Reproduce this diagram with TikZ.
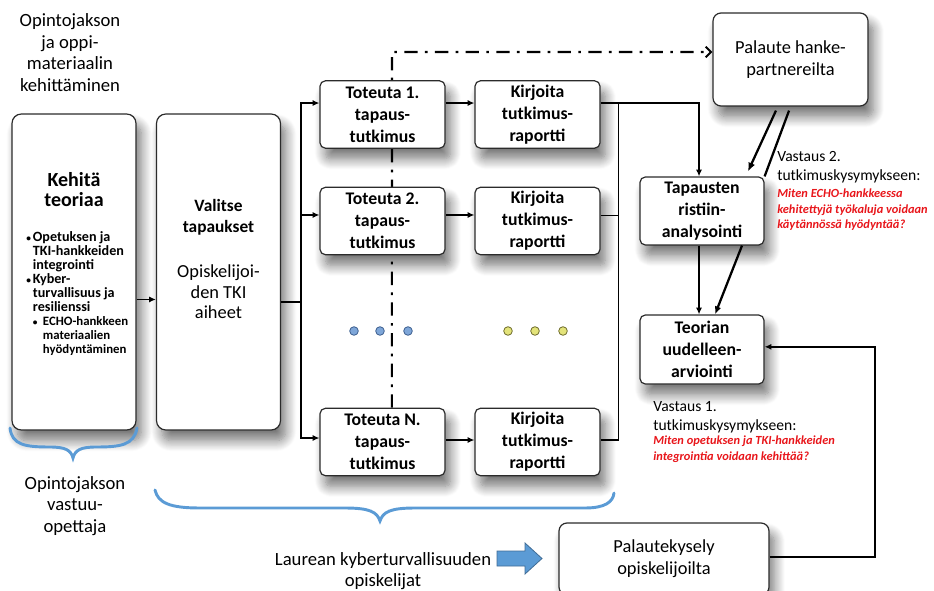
\documentclass[tikz,border=0pt]{standalone}
\usepackage{fontspec}
\setmainfont{Carlito}
\usetikzlibrary{arrows.meta,shadows.blur,backgrounds,calc}

\definecolor{edge}{HTML}{2B2B2B}
\definecolor{bracecol}{HTML}{5B9BD5}
\definecolor{qred}{HTML}{E8161B}
\definecolor{dotblue}{HTML}{7EA6D8}
\definecolor{dotblueline}{HTML}{3D5F8F}
\definecolor{dotyel}{HTML}{E3E37A}
\definecolor{dotyelline}{HTML}{6E6C2C}

\tikzset{
  card/.style={draw=edge, line width=0.9pt, fill=white, rounded corners=4pt,
    align=center, inner sep=2pt,
    blur shadow={shadow xshift=4pt, shadow yshift=-8pt, shadow blur radius=8pt,
      shadow blur steps=12, shadow opacity=55}},
  tall/.style={card, rounded corners=7pt, minimum width=93pt, minimum height=237pt},
  stepbox/.style={card, minimum width=93.75pt, minimum height=50.5pt,
    font=\fontsize{13.3}{16.5}\selectfont\bfseries},
  softbox/.style={card, rounded corners=6pt, font=\fontsize{13.8}{16.5}\selectfont},
  link/.style={draw=black, line width=1pt, -{Latex[length=5pt,width=4.5pt]}},
  plain/.style={draw=black, line width=1pt},
  heavy/.style={draw=black, line width=1.7pt},
  dashdot/.style={draw=black, line width=1.6pt,
    dash pattern=on 10pt off 5.5pt on 2pt off 5.5pt},
  brace/.style={draw=bracecol, line width=2.2pt, line cap=round},
  note/.style={align=center, font=\fontsize{14}{16.2}\selectfont},
  answer/.style={anchor=west, align=left, inner sep=0pt,
    font=\fontsize{11.7}{14.5}\selectfont},
  question/.style={anchor=west, align=left, inner sep=0pt, text=qred,
    font=\fontsize{9.3}{11.6}\selectfont\bfseries\itshape},
  bluedot/.style={fill=dotblue, draw=dotblueline, line width=0.6pt},
  yeldot/.style={fill=dotyel, draw=dotyelline, line width=0.6pt},
}
\newcommand{\dotmark}{\makebox[4pt][l]{\fontsize{7}{7}\selectfont\textbullet}}
\newcommand{\wide}[1]{\multicolumn{2}{@{}l@{}}{#1}}

\begin{document}
\begin{tikzpicture}[x=0.75pt, y=-0.75pt]
\useasboundingbox (0,0) rectangle (934,591);

% ---- left column: theory and case selection
\node[tall] (kt) at (74,272) {};
\node[font=\fontsize{15}{15}\selectfont\bfseries, align=center] (ktt) at (74,190) {Kehitä\\teoriaa};
\node[anchor=north west, inner sep=0pt, font=\fontsize{10.6}{10.4}\selectfont\bfseries] (ktb) at (26,231)
  {\begin{tabular}{@{}l@{\hspace{1pt}}l@{\hspace{3.5pt}}l@{}}
   \dotmark & \wide{Opetuksen ja}\\
   & \wide{TKI-hankkeiden}\\
   & \wide{integrointi}\\
   \dotmark & \wide{Kyber-}\\
   & \wide{turvallisuus ja}\\
   & \wide{resilienssi}\\
   & \dotmark & {\fontsize{9.6}{10.4}\selectfont ECHO-hankkeen}\\
   & & {\fontsize{9.6}{10.4}\selectfont materiaalien}\\
   & & {\fontsize{9.6}{10.4}\selectfont hyödyntäminen}
  \end{tabular}};

\node[tall] (vt) at (218.5,272) {};
\node[font=\fontsize{13}{15.5}\selectfont\bfseries, align=center] (vtt) at (218.5,217) {Valitse\\tapaukset};
\node[font=\fontsize{13.8}{15.5}\selectfont, align=center] (vts) at (218.5,292) {Opiskelijoi-\\den TKI\\aiheet};

% ---- case studies and reports
\node[stepbox] (t1) at (382.5,114.5) {Toteuta 1.\\tapaus-\\tutkimus};
\node[stepbox] (t2) at (382.5,221) {Toteuta 2.\\tapaus-\\tutkimus};
\node[stepbox] (tn) at (382.5,442) {Toteuta N.\\tapaus-\\tutkimus};
\node[stepbox] (k1) at (537.5,114.5) {Kirjoita\\tutkimus-\\raportti};
\node[stepbox] (k2) at (537.5,221) {Kirjoita\\tutkimus-\\raportti};
\node[stepbox] (kn) at (537.5,442) {Kirjoita\\tutkimus-\\raportti};

% ---- analysis column
\node[stepbox, minimum width=93pt, minimum height=51pt] (ta) at (702,211) {Tapausten\\ristiin-\\analysointi};
\node[stepbox, minimum width=93pt, minimum height=51.75pt] (te) at (702,349.5) {Teorian\\uudelleen-\\arviointi};
\node[softbox, minimum width=116.25pt, minimum height=69.75pt] (pa) at (790.5,59.5) {Palaute hanke-\\partnereilta};
\node[softbox, minimum width=157.5pt, minimum height=54pt] (pk) at (664,559) {Palautekysely\\opiskelijoilta};

% ---- continuation dots
\foreach \x in {354,380,408} \draw[bluedot] (\x,331) circle (4.3);
\foreach \x in {508,535,563} \draw[yeldot] (\x,331) circle (4.3);

% ---- feedback from project partners (dash-dot), behind the boxes
\coordinate (dtop) at (392,52);
\begin{scope}[on background layer]
  \draw[dashdot, -{Straight Barb[length=4pt,width=8pt,line width=1.5pt]}]
    ([xshift=7pt]tn.north) -- (dtop) -- (dtop -| pa.west);
\end{scope}

% ---- connectors
\draw[link] ([yshift=-20.6pt]kt.east) -- ([yshift=-20.6pt]vt.west);

\coordinate (fork) at ($([yshift=-22.5pt]vt.east)+(20,0)$);
\draw[plain] ([yshift=-22.5pt]vt.east) -- (fork);
\draw[link] (fork) |- ([yshift=8.6pt]t1.west);
\draw[link] (fork) |- ([yshift=4.5pt]t2.west);
\draw[link] (fork) |- ([yshift=3pt]tn.west);

\draw[link] ([yshift=8.6pt]t1.east) -- ([yshift=8.6pt]k1.west);
\draw[link] ([yshift=4.5pt]t2.east) -- ([yshift=4.5pt]k2.west);
\draw[link] ([yshift=1.5pt]tn.east) -- ([yshift=1.5pt]kn.west);

\coordinate (bus) at ($([yshift=8.6pt]k1.east)+(18,0)$);
\draw[link] ([yshift=8.6pt]k1.east) -| ([xshift=-2.25pt]ta.north);
\draw[plain] ([yshift=4pt]k2.east) -| (bus);
\draw[plain] ([yshift=1.5pt]kn.east) -| (bus);

\draw[link] ([xshift=-2.25pt]ta.south) -- ([xshift=-2.25pt]te.north);
\draw[heavy, -{Latex[length=6pt,width=5pt]}] ([xshift=30pt]ta.south) -- ([xshift=9.75pt]te.north);

\draw[heavy, -{Latex[length=6.5pt,width=5.5pt]}] ([xshift=-10.9pt,yshift=-3pt]pa.south) -- ([xshift=34.5pt,yshift=3.75pt]ta.north);
\draw[heavy] ([xshift=-1.1pt,yshift=-3pt]pa.south) -- (ta.north east);

\draw[link, line width=1.5pt] ([yshift=1.5pt]pk.east) -- ++(105,0) |- ([yshift=2pt]te.east);

% ---- answers to the research questions
\node[answer] (v2) at (777,167) {Vastaus 2.\\tutkimuskysymykseen:};
\node[question] (q2) at (777,210) {Miten ECHO-hankkeessa\\kehitettyjä työkaluja voidaan\\käytännössä hyödyntää?};
\node[answer] (v1) at (653,417) {Vastaus 1.\\tutkimuskysymykseen:};
\node[question] (q1) at (653,449) {Miten opetuksen ja TKI-hankkeiden\\integrointia voidaan kehittää?};

% ---- side texts and braces
\node[note] (lt) at (70,52.5) {Opintojakson\\ja oppi-\\materiaalin\\kehittäminen};
\node[note] (vo) at (75,506) {Opintojakson\\vastuu-\\opettaja};
\node[note] (lo) at (383,571) {Laurean kyberturvallisuuden\\opiskelijat};

\draw[brace] (10,428) .. controls (12,445) and (25,447) .. (50,447)
  .. controls (65,447) and (71,450) .. (73,458)
  .. controls (75,450) and (81,447) .. (96,447)
  .. controls (121,447) and (134,445) .. (137,428);
\draw[brace] (155,490) .. controls (158,503) and (170,508) .. (200,508) -- (345,508)
  .. controls (370,508) and (377,512) .. (380,521)
  .. controls (383,512) and (390,508) .. (415,508) -- (585,508)
  .. controls (605,508) and (613,502) .. (614,493);

% ---- students arrow
\draw[fill=bracecol, draw=bracecol!70!black, line width=0.6pt]
  (497,551) -- (525,551) -- (525,543) -- (542,558.5) -- (525,574) -- (525,566) -- (497,566) -- cycle;
\end{tikzpicture}
\end{document}
